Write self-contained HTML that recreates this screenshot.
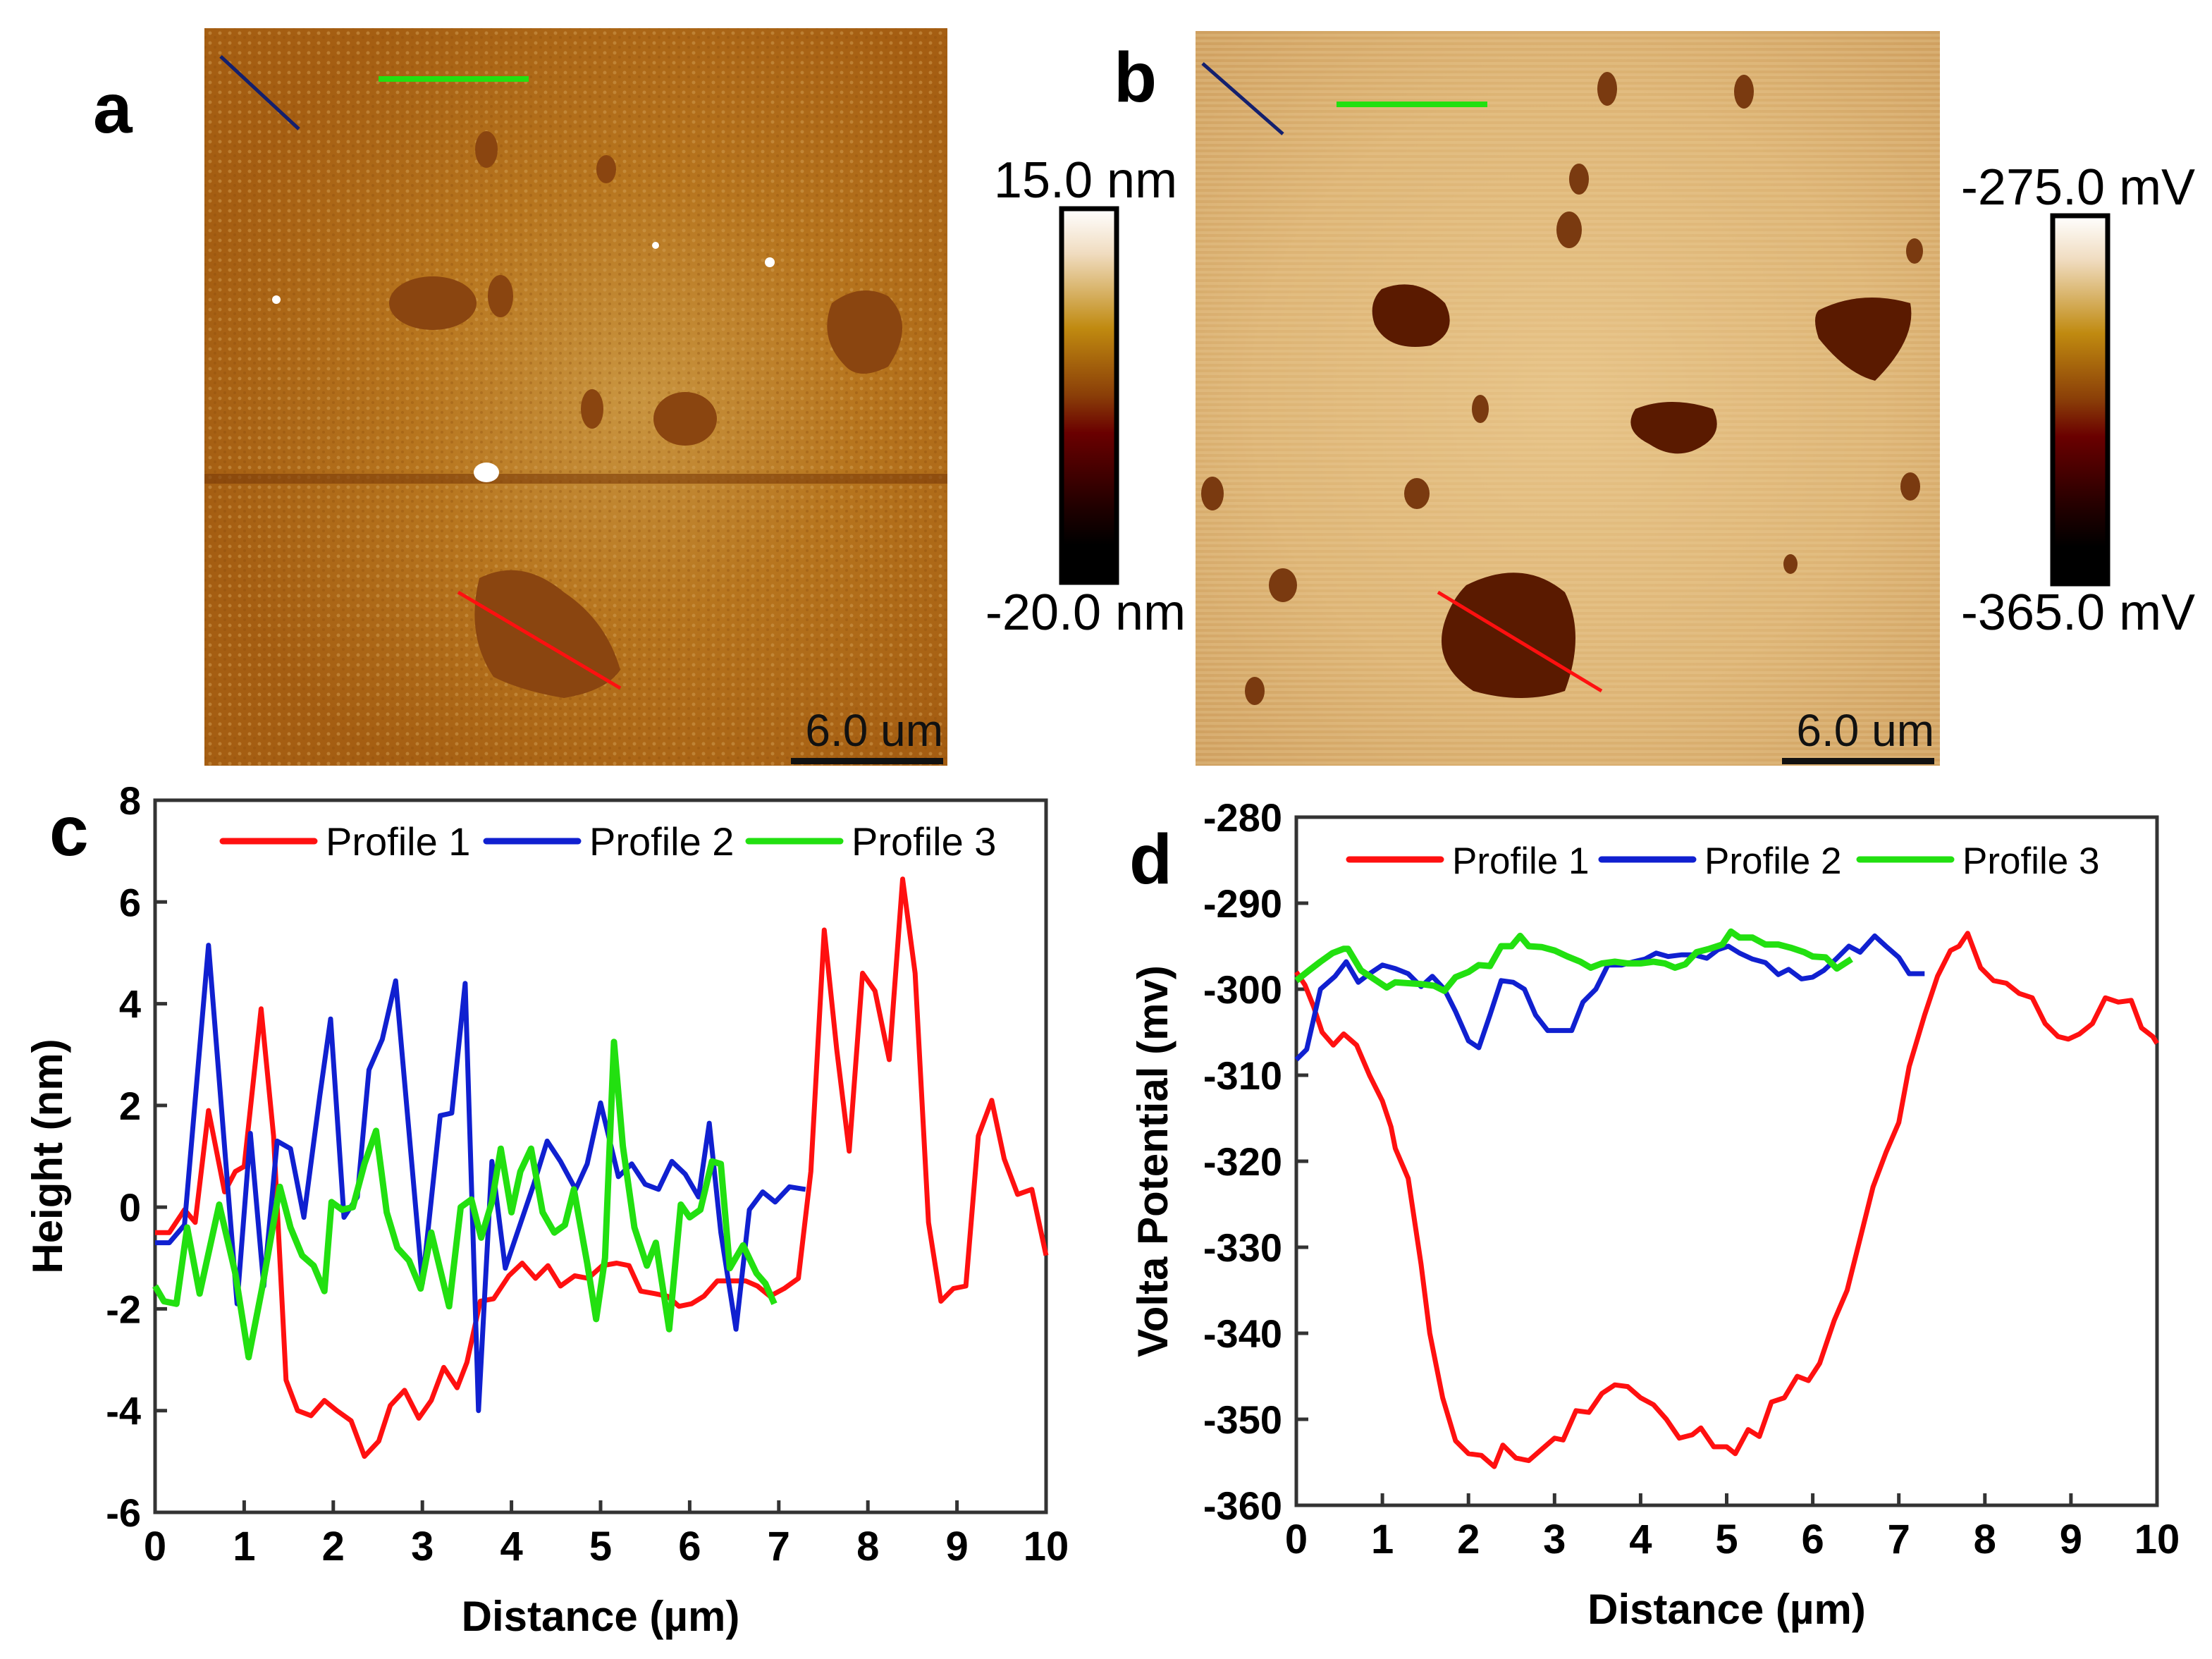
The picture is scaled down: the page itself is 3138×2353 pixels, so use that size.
<!DOCTYPE html>
<html><head><meta charset="utf-8">
<style>
html,body{margin:0;padding:0;background:#fff;}
svg{display:block;}
text{font-family:"Liberation Sans",Arial,sans-serif;}
</style></head>
<body>
<svg id="fig" xmlns="http://www.w3.org/2000/svg" width="3138" height="2353" viewBox="0 0 3138 2353">
<defs>
  <linearGradient id="cbA" x1="0" y1="0" x2="0" y2="1">
    <stop offset="0" stop-color="#ffffff"/><stop offset="0.12" stop-color="#f0dcc0"/>
    <stop offset="0.32" stop-color="#c08a10"/><stop offset="0.5" stop-color="#8a3e08"/>
    <stop offset="0.6" stop-color="#6a0000"/><stop offset="0.8" stop-color="#200000"/>
    <stop offset="0.9" stop-color="#000"/><stop offset="1" stop-color="#000"/>
  </linearGradient>
  <radialGradient id="gA" cx="0.58" cy="0.5" r="0.6">
    <stop offset="0" stop-color="#c99540"/><stop offset="0.5" stop-color="#b7751e"/><stop offset="1" stop-color="#a55e12"/>
  </radialGradient>
  <radialGradient id="gB" cx="0.5" cy="0.5" r="0.7">
    <stop offset="0" stop-color="#e6c286"/><stop offset="0.6" stop-color="#ddb475"/><stop offset="1" stop-color="#cfa060"/>
  </radialGradient>
  <pattern id="texA" width="14" height="14" patternUnits="userSpaceOnUse">
    <rect width="14" height="14" fill="none"/><circle cx="4" cy="5" r="2.5" fill="#d6a45a" opacity="0.45"/><circle cx="11" cy="11" r="2" fill="#8a4a0a" opacity="0.3"/>
  </pattern>
  <pattern id="texB" width="40" height="8" patternUnits="userSpaceOnUse">
    <rect width="40" height="4" fill="#f0d49e" opacity="0.25"/>
  </pattern>
</defs>

<!-- Panel a -->
<g>
  <rect x="290" y="40" width="1054" height="1046" fill="url(#gA)"/>
  <rect x="290" y="40" width="1054" height="1046" fill="url(#texA)"/>
  <rect x="290" y="672" width="1054" height="14" fill="#7a3a08" opacity="0.6"/>
  <g fill="#8a4510">
    <ellipse cx="614" cy="430" rx="62" ry="38"/>
    <path d="M1180 430 q40 -30 80 -10 q40 40 0 100 q-40 20 -60 0 q-40 -40 -20 -90z"/>
    <ellipse cx="972" cy="594" rx="45" ry="38"/>
    <path d="M680 820 q60 -30 120 20 q60 40 80 110 q-20 30 -80 40 q-60 -10 -100 -30 q-40 -60 -20 -140z"/>
    <ellipse cx="690" cy="212" rx="16" ry="26"/><ellipse cx="860" cy="240" rx="14" ry="20"/>
    <ellipse cx="710" cy="420" rx="18" ry="30"/><ellipse cx="840" cy="580" rx="16" ry="28"/>
  </g>
  <ellipse cx="690" cy="670" rx="18" ry="14" fill="#fff"/>
  <circle cx="1092" cy="372" r="7" fill="#fff"/><circle cx="392" cy="425" r="6" fill="#fff"/><circle cx="930" cy="348" r="5" fill="#fff"/>
  <line x1="313" y1="80" x2="424" y2="183" stroke="#14206e" stroke-width="5"/>
  <line x1="537" y1="112" x2="750" y2="112" stroke="#22e010" stroke-width="8"/>
  <line x1="650" y1="840" x2="880" y2="976" stroke="#ff1010" stroke-width="5"/>
  <text x="1338" y="1058" font-size="64" text-anchor="end" fill="#111">6.0 um</text>
  <rect x="1122" y="1075" width="216" height="9" fill="#111"/>
</g>
<text x="132" y="188" font-size="100" font-weight="bold">a</text>

<g>
  <rect x="1506" y="296" width="78" height="530" fill="url(#cbA)" stroke="#000" stroke-width="7"/>
  <text x="1540" y="280" font-size="72" text-anchor="middle">15.0 nm</text>
  <text x="1540" y="893" font-size="72" text-anchor="middle">-20.0 nm</text>
</g>

<!-- Panel b -->
<g>
  <rect x="1696" y="44" width="1056" height="1042" fill="url(#gB)"/>
  <rect x="1696" y="44" width="1056" height="1042" fill="url(#texB)"/>
  <g fill="#5a1a00">
    <path d="M1960 410 q50 -20 90 20 q20 40 -20 60 q-60 10 -80 -30 q-10 -30 10 -50z"/>
    <path d="M2580 440 q60 -30 130 -10 q10 50 -50 110 q-40 -10 -80 -60 q-10 -30 0 -40z"/>
    <path d="M2320 580 q50 -20 110 0 q20 40 -30 60 q-30 10 -60 -10 q-40 -20 -20 -50z"/>
    <path d="M2080 830 q80 -40 140 10 q30 60 0 140 q-60 20 -130 0 q-60 -40 -40 -100 q10 -30 30 -50z"/>
  </g>
  <g fill="#7a3a10">
    <ellipse cx="2280" cy="126" rx="14" ry="24"/><ellipse cx="2474" cy="130" rx="14" ry="24"/>
    <ellipse cx="2240" cy="254" rx="14" ry="22"/><ellipse cx="2226" cy="326" rx="18" ry="26"/>
    <ellipse cx="2716" cy="356" rx="12" ry="18"/><ellipse cx="1720" cy="700" rx="16" ry="24"/>
    <ellipse cx="2710" cy="690" rx="14" ry="20"/><ellipse cx="2100" cy="580" rx="12" ry="20"/>
    <ellipse cx="1820" cy="830" rx="20" ry="24"/><ellipse cx="1780" cy="980" rx="14" ry="20"/>
    <ellipse cx="2010" cy="700" rx="18" ry="22"/><ellipse cx="2540" cy="800" rx="10" ry="14"/>
  </g>
  <line x1="1706" y1="90" x2="1820" y2="190" stroke="#14206e" stroke-width="5"/>
  <line x1="1896" y1="148" x2="2110" y2="148" stroke="#22e010" stroke-width="8"/>
  <line x1="2040" y1="840" x2="2272" y2="980" stroke="#ff1010" stroke-width="5"/>
  <text x="2744" y="1058" font-size="64" text-anchor="end" fill="#111">6.0 um</text>
  <rect x="2528" y="1075" width="216" height="9" fill="#111"/>
</g>
<text x="1580" y="144" font-size="100" font-weight="bold">b</text>

<g>
  <rect x="2912" y="306" width="78" height="522" fill="url(#cbA)" stroke="#000" stroke-width="7"/>
  <text x="2948" y="290" font-size="72" text-anchor="middle">-275.0 mV</text>
  <text x="2948" y="893" font-size="72" text-anchor="middle">-365.0 mV</text>
</g>

<text x="70" y="1213" font-size="100" font-weight="bold">c</text>
<text x="1602" y="1253" font-size="100" font-weight="bold">d</text>

<g id="chartC"></g>
<g id="chartD"></g>
</svg>

<script>
// ---- Chart c data ----
const cXTicks = [0,1,2,3,4,5,6,7,8,9,10];
const cYTicks = [-6,-4,-2,0,2,4,6,8];
const cP1x = [0,0.16,0.33,0.45,0.6,0.78,0.9,1.0,1.19,1.33,1.47,1.6,1.75,1.9,2.04,2.2,2.35,2.51,2.64,2.8,2.96,3.1,3.24,3.39,3.5,3.65,3.8,3.97,4.12,4.27,4.41,4.55,4.71,4.86,5.02,5.18,5.32,5.45,5.61,5.75,5.88,6.02,6.16,6.31,6.47,6.63,6.76,6.9,7.06,7.22,7.36,7.51,7.65,7.79,7.94,8.08,8.24,8.39,8.53,8.68,8.82,8.96,9.1,9.24,9.39,9.53,9.68,9.84,10];
const cP1y = [-0.5,-0.5,-0.05,-0.3,1.9,0.3,0.7,0.8,3.9,1.4,-3.4,-4.0,-4.1,-3.8,-4.0,-4.2,-4.9,-4.6,-3.9,-3.6,-4.15,-3.8,-3.15,-3.55,-3.05,-1.85,-1.8,-1.35,-1.1,-1.4,-1.15,-1.55,-1.35,-1.4,-1.15,-1.1,-1.15,-1.65,-1.7,-1.75,-1.95,-1.9,-1.75,-1.45,-1.45,-1.45,-1.55,-1.75,-1.6,-1.4,0.7,5.45,3.1,1.1,4.6,4.25,2.9,6.45,4.6,-0.3,-1.85,-1.6,-1.55,1.4,2.1,0.95,0.25,0.35,-0.95];
const cP2x = [0,0.16,0.33,0.6,0.92,1.07,1.22,1.37,1.52,1.67,1.85,1.97,2.12,2.27,2.4,2.55,2.7,3.0,3.2,3.33,3.48,3.63,3.78,3.93,4.25,4.4,4.55,4.72,4.85,5.0,5.2,5.35,5.5,5.65,5.8,5.95,6.1,6.22,6.35,6.52,6.67,6.82,6.96,7.12,7.3];
const cP2y = [-0.7,-0.7,-0.35,5.15,-1.9,1.45,-1.55,1.3,1.15,-0.2,2.2,3.7,-0.2,0.2,2.7,3.3,4.45,-1.5,1.8,1.85,4.4,-4.0,0.9,-1.2,0.45,1.3,0.9,0.35,0.85,2.05,0.6,0.85,0.45,0.35,0.9,0.65,0.2,1.65,-0.5,-2.4,-0.05,0.3,0.1,0.4,0.35];
const cP3x = [0,0.1,0.24,0.36,0.5,0.72,0.9,1.05,1.2,1.4,1.52,1.65,1.78,1.9,1.98,2.1,2.22,2.35,2.48,2.6,2.72,2.85,2.98,3.1,3.3,3.43,3.55,3.66,3.78,3.88,4.0,4.1,4.22,4.35,4.48,4.6,4.7,4.85,4.95,5.05,5.15,5.25,5.38,5.52,5.62,5.77,5.9,6.0,6.12,6.25,6.35,6.45,6.6,6.75,6.85,6.95];
const cP3y = [-1.55,-1.85,-1.9,-0.4,-1.7,0.05,-1.3,-2.95,-1.6,0.4,-0.4,-0.95,-1.15,-1.65,0.1,-0.05,0.0,0.85,1.5,-0.1,-0.8,-1.05,-1.6,-0.5,-1.95,0.0,0.15,-0.6,0.1,1.15,-0.1,0.7,1.15,-0.1,-0.5,-0.35,0.35,-1.1,-2.2,-1.0,3.25,1.2,-0.4,-1.15,-0.7,-2.4,0.05,-0.2,-0.05,0.9,0.85,-1.2,-0.75,-1.3,-1.5,-1.9];

// ---- Chart d data ----
const dXTicks = [0,1,2,3,4,5,6,7,8,9,10];
const dYTicks = [-360,-350,-340,-330,-320,-310,-300,-290,-280];
const dP1x = [0,0.1,0.2,0.3,0.43,0.55,0.7,0.85,1.0,1.1,1.15,1.3,1.45,1.55,1.7,1.85,2.0,2.15,2.3,2.4,2.55,2.7,2.85,3.0,3.1,3.25,3.4,3.55,3.7,3.85,4.0,4.15,4.3,4.45,4.6,4.7,4.85,5.0,5.1,5.25,5.38,5.52,5.67,5.82,5.95,6.08,6.25,6.4,6.55,6.7,6.85,7.0,7.12,7.3,7.45,7.6,7.7,7.8,7.95,8.1,8.25,8.4,8.55,8.7,8.85,8.97,9.1,9.25,9.4,9.55,9.7,9.82,9.95,10];
const dP1y = [-298,-299.5,-302,-305,-306.5,-305.2,-306.5,-310,-313,-316,-318.5,-322,-332,-340,-347.5,-352.5,-354,-354.2,-355.5,-353,-354.5,-354.8,-353.5,-352.2,-352.4,-349,-349.2,-347,-346,-346.2,-347.5,-348.3,-350,-352.2,-351.8,-351,-353.2,-353.2,-354,-351.2,-352,-348,-347.5,-345,-345.5,-343.5,-338.5,-335,-329,-323,-319,-315.5,-309,-303,-298.5,-295.5,-295,-293.5,-297.5,-299,-299.3,-300.5,-301,-304,-305.5,-305.8,-305.2,-304,-301,-301.5,-301.3,-304.5,-305.5,-306.3];
const dP2x = [0,0.12,0.28,0.45,0.58,0.72,0.85,1.0,1.15,1.3,1.45,1.58,1.72,1.85,2.0,2.12,2.25,2.38,2.52,2.65,2.78,2.92,3.05,3.2,3.33,3.48,3.62,3.78,3.92,4.05,4.18,4.32,4.48,4.62,4.77,4.9,5.02,5.15,5.3,5.45,5.6,5.72,5.87,6.0,6.13,6.27,6.42,6.55,6.72,6.85,7.0,7.12,7.3];
const dP2y = [-308.2,-307,-300,-298.5,-296.8,-299.2,-298.2,-297.2,-297.6,-298.2,-299.7,-298.5,-300,-302.6,-306,-306.8,-303,-299,-299.2,-300,-303,-304.8,-304.8,-304.8,-301.5,-300,-297.2,-297.2,-296.8,-296.5,-295.8,-296.2,-296,-296,-296.4,-295.4,-295,-295.8,-296.5,-296.9,-298.3,-297.7,-298.8,-298.6,-297.8,-296.5,-295,-295.7,-293.8,-295,-296.3,-298.2,-298.2];
const dP3x = [0,0.15,0.28,0.42,0.55,0.6,0.75,0.9,1.05,1.15,1.3,1.45,1.6,1.72,1.85,2.0,2.12,2.25,2.38,2.5,2.6,2.7,2.85,3.0,3.15,3.3,3.42,3.55,3.7,3.85,4.0,4.15,4.28,4.4,4.52,4.65,4.8,4.95,5.05,5.15,5.3,5.45,5.6,5.75,5.9,6.0,6.15,6.28,6.45];
const dP3y = [-299,-297.8,-296.8,-295.8,-295.3,-295.3,-297.8,-298.8,-299.8,-299.2,-299.3,-299.4,-299.6,-300.2,-298.6,-298,-297.2,-297.3,-295,-295,-293.8,-295,-295.1,-295.5,-296.2,-296.8,-297.5,-297,-296.8,-297,-297,-296.8,-297,-297.5,-297.1,-295.7,-295.3,-294.8,-293.3,-294,-294,-294.8,-294.8,-295.2,-295.7,-296.2,-296.3,-297.6,-296.5];

const NS = "http://www.w3.org/2000/svg";
function mk(tag, attrs, parent){ const e=document.createElementNS(NS,tag); for(const k in attrs) e.setAttribute(k,attrs[k]); parent.appendChild(e); return e; }

function drawChart(g, box, xDom, yDom, xTicks, yTicks, series, yTitle, legend){
  const sx = v => box.x0 + (v - xDom[0])/(xDom[1]-xDom[0])*(box.x1-box.x0);
  const sy = v => box.y1 - (v - yDom[0])/(yDom[1]-yDom[0])*(box.y1-box.y0);
  const frame = mk('rect',{x:box.x0,y:box.y0,width:box.x1-box.x0,height:box.y1-box.y0,fill:'none',stroke:'#333','stroke-width':5},g);
  
  
  xTicks.forEach(t=>{
    const tk = mk('line',{x1:sx(t),x2:sx(t),y1:box.y1,y2:box.y1-17,stroke:'#333','stroke-width':5},g);
    
    
    const lb = mk('text',{x:sx(t),y:box.y1+68,'font-size':58,'font-weight':'bold','text-anchor':'middle'},g);
    lb.textContent = t;
    
    
  });
  yTicks.forEach(t=>{
    const tk = mk('line',{x1:box.x0,x2:box.x0+17,y1:sy(t),y2:sy(t),stroke:'#333','stroke-width':5},g);
    
    
    const lb = mk('text',{x:box.x0-20,y:sy(t)+20,'font-size':56,'font-weight':'bold','text-anchor':'end'},g);
    lb.textContent = t;
    
    
  });
  series.forEach(s=>{
    const pts = s.x.map((v,i)=>sx(v).toFixed(1)+','+sy(s.y[i]).toFixed(1)).join(' ');
    const pl = mk('polyline',{points:pts,fill:'none',stroke:s.color,'stroke-width':s.w,'stroke-linejoin':'round'},g);
    
    
  });
  const xt = mk('text',{x:(box.x0+box.x1)/2,y:box.y1+168,'font-size':60,'font-weight':'bold','text-anchor':'middle'},g);
  xt.textContent = 'Distance (\u00b5m)';
  
  
  const yx = yTitle.x, yy = (box.y0+box.y1)/2 + yTitle.dy;
  const yt = mk('text',{x:yx,y:yy,'font-size':60,'font-weight':'bold','text-anchor':'middle',transform:`rotate(-90 ${yx} ${yy})`},g);
  yt.textContent = yTitle.text;
  
  
  legend.items.forEach((it,i)=>{
    const lx = legend.x[i];
    const ln = mk('line',{x1:lx,x2:lx+130,y1:legend.y,y2:legend.y,stroke:it.color,'stroke-width':9,'stroke-linecap':'round'},g);
    
    
    const tx = mk('text',{x:lx+146,y:legend.y+20,'font-size':legend.fs},g);
    tx.textContent = it.label;
    
    
  });
}

drawChart(document.getElementById('chartC'),
  {x0:220,x1:1484,y0:1135,y1:2145},[0,10],[-6,8],cXTicks,cYTicks,
  [{x:cP1x,y:cP1y,color:'#ff1010',w:7,name:'profile-1-line'},
   {x:cP2x,y:cP2y,color:'#1020d0',w:7,name:'profile-2-line'},
   {x:cP3x,y:cP3y,color:'#22e010',w:9,name:'profile-3-line'}],
  {x:88,dy:0,text:'Height (nm)'},
  {x:[316,690,1062],y:1193,fs:56,items:[{color:'#ff1010',label:'Profile 1'},{color:'#1020d0',label:'Profile 2'},{color:'#22e010',label:'Profile 3'}]});

drawChart(document.getElementById('chartD'),
  {x0:1839,x1:3060,y0:1159,y1:2135},[0,10],[-360,-280],dXTicks,dYTicks,
  [{x:dP1x,y:dP1y,color:'#ff1010',w:7,name:'profile-1-line'},
   {x:dP2x,y:dP2y,color:'#1020d0',w:7,name:'profile-2-line'},
   {x:dP3x,y:dP3y,color:'#22e010',w:9,name:'profile-3-line'}],
  {x:1656,dy:0,text:'Volta Potential (mv)'},
  {x:[1914,2272,2638],y:1219,fs:53,items:[{color:'#ff1010',label:'Profile 1'},{color:'#1020d0',label:'Profile 2'},{color:'#22e010',label:'Profile 3'}]});
</script>
</body></html>
